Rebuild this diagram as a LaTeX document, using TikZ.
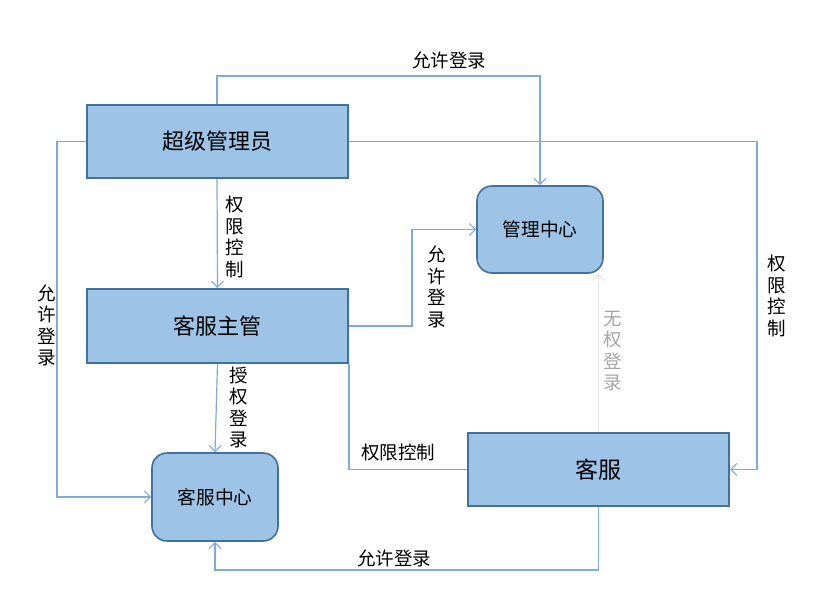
\documentclass[tikz,border=0pt]{standalone}
\usepackage{fontspec}
\setmainfont{Noto Sans CJK SC}
\usetikzlibrary{arrows.meta}
\definecolor{boxfill}{HTML}{9DC3E6}
\definecolor{boxline}{HTML}{41719C}
\definecolor{conn}{HTML}{7FAADC}
\definecolor{faint}{HTML}{E4E4E4}
\definecolor{faintText}{HTML}{A6A6A6}
\tikzset{
  bigbox/.style={draw=boxline, fill=boxfill, line width=2pt, minimum width=261pt, minimum height=73pt, inner sep=0pt, font=\fontsize{22}{26}\selectfont},
  roundbox/.style={draw=boxline, fill=boxfill, line width=1.6pt, rounded corners=15pt, minimum width=126pt, minimum height=87pt, inner sep=0pt, font=\fontsize{18.7}{22}\selectfont},
  conline/.style={draw=conn, line width=1.2pt},
  arr/.style={conline, -{Straight Barb[length=6pt,width=12pt,line width=1.1pt]}},
  lab/.style={inner sep=0pt, font=\fontsize{18.5}{21.5}\selectfont, align=center},
}
\begin{document}
\begin{tikzpicture}[x=1pt,y=-1pt]
\useasboundingbox (0,0) rectangle (818,610);
% nodes
\node[bigbox] (cj) at (217,141.5) {超级管理员};
\node[bigbox, minimum height=74pt] (kfzg) at (217.5,326) {客服主管};
\node[roundbox] (glzx) at (540,229.5) {管理中心};
\node[roundbox, minimum height=88pt] (kfzx) at (215,497) {客服中心};
\node[bigbox, font=\fontsize{23}{26}\selectfont] (kf) at (598.5,469.5) {客服};
% corner coordinates
\coordinate (t1) at (217,76);
\coordinate (r1) at (757,141.5);
\coordinate (l1) at (57,141.5);
\coordinate (m1) at (412,326);
\coordinate (b1) at (598.5,570);
% connectors
\draw[arr] (cj.north) -- (t1) -| (glzx.north);
\draw[arr] (cj.east) -- (r1) |- (kf.east);
\draw[arr] (cj.west) -- (l1) |- (kfzx.west);
\draw[arr] (cj.south) -- (kfzg.north);
\draw[arr] (kfzg.east) -- (m1) |- (glzx.west);
\draw[arr] (kfzg.south) -- (kfzx.north);
\draw[conline] (kfzg.south east) |- (kf.west);
\draw[arr] (kf.south) -- (b1) -| (kfzx.south);
\draw[draw=faint, line width=1.2pt, -{Straight Barb[length=6pt,width=12pt,line width=1.1pt]}] (kf.north) -- (kf.north |- glzx.south);
% labels
\node[lab] (lb1) at (449,60) {允许登录};
\node[lab] (lb2) at (777,296) {权\\限\\控\\制};
\node[lab] (lb3) at (46.5,325.5) {允\\许\\登\\录};
\node[lab] (lb4) at (235,237) {权\\限\\控\\制};
\node[lab] (lb5) at (437,287) {允\\许\\登\\录};
\node[lab] (lb6) at (239,407.5) {授\\权\\登\\录};
\node[lab, text=faintText] (lb7) at (613,351) {无\\权\\登\\录};
\node[lab] (lb8) at (398,452) {权限控制};
\node[lab] (lb9) at (394,558) {允许登录};
\end{tikzpicture}
\end{document}
